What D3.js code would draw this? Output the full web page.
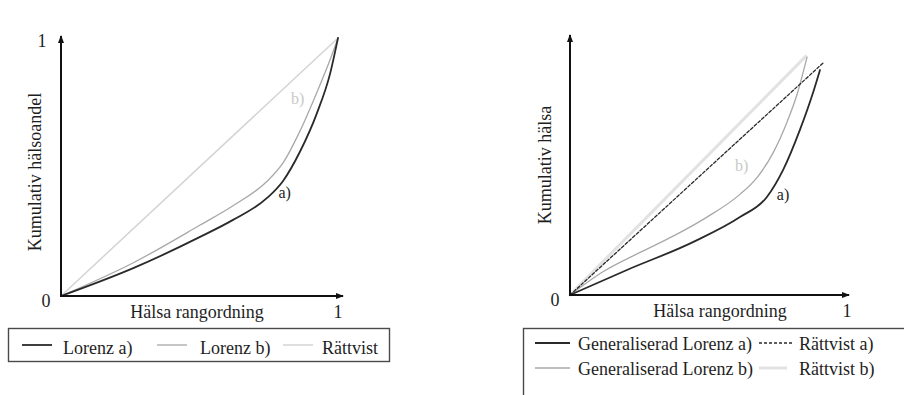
<!DOCTYPE html>
<html>
<head>
<meta charset="utf-8">
<script src="https://cdn.jsdelivr.net/npm/d3@7"></script>
<style>
  body { margin: 0; background: #fff; }
  text { font-family: "Liberation Serif", "Times New Roman", serif; fill: #1e1e1e; }
</style>
</head>
<body>
<svg id="chart" width="904" height="395"></svg>
<script>
// Left panel: Lorenz curves (population share ranked by health, cumulative health share)
const leftLorenzA = [[0,0],[0.263,0.109],[0.502,0.229],[0.621,0.295],[0.744,0.38],[0.801,0.445],[0.863,0.56],[0.924,0.709],[0.971,0.86],[1,1]];
const leftLorenzB = [[0,0],[0.263,0.13],[0.502,0.275],[0.621,0.35],[0.744,0.445],[0.801,0.515],[0.863,0.64],[0.924,0.79],[0.971,0.915],[1,1]];
const leftFair    = [[0,0],[1,1]];

// Right panel: generalised Lorenz curves and their equality lines
const rightLorenzA = [[0,0],[0.207,0.097],[0.447,0.205],[0.618,0.302],[0.716,0.38],[0.775,0.485],[0.836,0.64],[0.884,0.785],[0.909,0.872]];
const rightLorenzB = [[0,0],[0.12,0.09],[0.255,0.165],[0.375,0.228],[0.498,0.302],[0.618,0.39],[0.68,0.455],[0.738,0.55],[0.789,0.67],[0.825,0.775],[0.862,0.922]];
const rightFairA   = [[0,0],[0.92,0.899]];
const rightFairB   = [[0,0],[0.857,0.925]];

// Axis texts
const leftTicks  = ["0", "1"];
const rightTicks = ["0", "1"];
const leftYTitle  = "Kumulativ hälsoandel";
const rightYTitle = "Kumulativ hälsa";
const xTitle      = "Hälsa rangordning";

// Legend entries
const leftLegend  = ["Lorenz a)", "Lorenz b)", "Rättvist"];
const rightLegend = ["Generaliserad Lorenz a)", "Rättvist a)", "Generaliserad Lorenz b)", "Rättvist b)"];

const svg = d3.select("#chart");
const FS = 18;

// line styles
const styles = {
  lorenzA: { stroke: "#2a2a2a", width: 1.8, dash: null },
  lorenzB: { stroke: "#a8a8a8", width: 1.3, dash: null },
  fair:    { stroke: "#d4d4d4", width: 1.5, dash: null },
  fairA:   { stroke: "#2a2a2a", width: 1.3, dash: "3,2" },
  fairB:   { stroke: "#e2e2e2", width: 3,   dash: null }
};

svg.append("defs").append("marker")
  .attr("id", "arrow").attr("viewBox", "0 0 8 6")
  .attr("refX", 7).attr("refY", 3)
  .attr("markerWidth", 8).attr("markerHeight", 6)
  .attr("markerUnits", "userSpaceOnUse")
  .attr("orient", "auto")
  .append("path").attr("d", "M0,0 L8,3 L0,6 Z").attr("fill", "#111");

function drawPanel(cfg) {
  const x = d3.scaleLinear().domain([0, 1]).range(cfg.xr);
  const y = d3.scaleLinear().domain([0, 1]).range(cfg.yr);
  const g = svg.append("g");
  const line = d3.line().x(d => x(d[0])).y(d => y(d[1])).curve(d3.curveMonotoneX);

  cfg.series.forEach(s => {
    const st = styles[s.style];
    g.append("path").datum(s.data)
      .attr("d", line)
      .attr("fill", "none")
      .attr("stroke", st.stroke)
      .attr("stroke-width", st.width)
      .attr("stroke-dasharray", st.dash)
      .attr("stroke-linecap", "round");
  });

  // axes with arrow heads
  g.append("line")
    .attr("x1", x(0)).attr("y1", y(0)).attr("x2", x(1) + cfg.xOver).attr("y2", y(0))
    .attr("stroke", "#111").attr("stroke-width", 2).attr("marker-end", "url(#arrow)");
  g.append("line")
    .attr("x1", x(0)).attr("y1", y(0) + 1).attr("x2", x(0)).attr("y2", y(1) - 2)
    .attr("stroke", "#111").attr("stroke-width", 2).attr("marker-end", "url(#arrow)");

  // tick labels
  g.append("text").attr("x", x(0) - 15).attr("y", y(0) + 11)
    .attr("text-anchor", "middle").attr("font-size", FS).text(cfg.ticks[0]);
  g.append("text").attr("x", x(1) + cfg.oneDx).attr("y", y(0) + 22)
    .attr("text-anchor", "middle").attr("font-size", FS).text(cfg.ticks[1]);
  if (cfg.topOne) {
    g.append("text").attr("x", x(0) - 19).attr("y", y(1) + 9)
      .attr("text-anchor", "middle").attr("font-size", FS).text(cfg.ticks[1]);
  }

  // titles
  g.append("text").attr("x", cfg.xTitleX).attr("y", y(0) + 22)
    .attr("text-anchor", "middle").attr("font-size", FS).text(xTitle);
  g.append("text")
    .attr("transform", `translate(${cfg.yTitle[0]},${cfg.yTitle[1]}) rotate(-90)`)
    .attr("text-anchor", "middle").attr("font-size", FS).text(cfg.yText);

  // curve labels
  cfg.labels.forEach(l => {
    g.append("text")
      .attr("transform", `translate(${x(l.at[0])},${y(l.at[1])}) rotate(${l.rot})`)
      .attr("font-size", 16).style("fill", l.color).text(l.text);
  });
}

drawPanel({
  xr: [61, 338], yr: [296, 38], xOver: 5, oneDx: 0, topOne: true,
  ticks: leftTicks, xTitleX: 197, yTitle: [41, 172], yText: leftYTitle,
  series: [
    { data: leftFair, style: "fair" },
    { data: leftLorenzB, style: "lorenzB" },
    { data: leftLorenzA, style: "lorenzA" }
  ],
  labels: [
    { text: "a)", at: [0.785, 0.38], color: "#1e1e1e", rot: 0 },
    { text: "b)", at: [0.83, 0.745], color: "#c8c8c8", rot: 0 }
  ]
});

drawPanel({
  xr: [570, 845], yr: [295, 37], xOver: 4, oneDx: 2, topOne: false,
  ticks: rightTicks, xTitleX: 720, yTitle: [551, 165], yText: rightYTitle,
  series: [
    { data: rightFairB, style: "fairB" },
    { data: rightLorenzB, style: "lorenzB" },
    { data: rightFairA, style: "fairA" },
    { data: rightLorenzA, style: "lorenzA" }
  ],
  labels: [
    { text: "a)", at: [0.752, 0.37], color: "#1e1e1e", rot: 0 },
    { text: "b)", at: [0.6, 0.48], color: "#c8c8c8", rot: 0 }
  ]
});

// legend boxes
const leftStyles = ["lorenzA", "lorenzB", "fair"];
const lg = svg.append("g");
lg.append("rect").attr("x", 8.5).attr("y", 328.5).attr("width", 381).attr("height", 33)
  .attr("fill", "none").attr("stroke", "#4a4a4a").attr("stroke-width", 1.4);
const leftLineX = [22, 157, 283];
const leftTextX = [63, 200, 322];
leftLegend.forEach((t, i) => {
  const st = styles[leftStyles[i]];
  lg.append("line").attr("x1", leftLineX[i]).attr("x2", leftLineX[i] + 30)
    .attr("y1", 345).attr("y2", 345)
    .attr("stroke", st.stroke).attr("stroke-width", st.width);
  lg.append("text").attr("x", leftTextX[i]).attr("y", 354)
    .attr("font-size", FS).text(t);
});

const rightStyles = ["lorenzA", "fairA", "lorenzB", "fairB"];
const rg = svg.append("g");
rg.append("rect").attr("x", 523.5).attr("y", 328.5).attr("width", 420).attr("height", 100)
  .attr("fill", "none").attr("stroke", "#4a4a4a").attr("stroke-width", 1.4);
const rLineX = [[535, 570], [759, 793], [535, 570], [759, 787]];
const rTextX = [578, 799, 578, 799];
const rRowY = [343, 368];
rightLegend.forEach((t, i) => {
  const st = styles[rightStyles[i]];
  const ry = rRowY[Math.floor(i / 2)];
  rg.append("line").attr("x1", rLineX[i][0]).attr("x2", rLineX[i][1])
    .attr("y1", ry).attr("y2", ry)
    .attr("stroke", st.stroke).attr("stroke-width", st.width)
    .attr("stroke-dasharray", st.dash);
  rg.append("text").attr("x", rTextX[i]).attr("y", ry + 7)
    .attr("font-size", FS).text(t);
});
</script>
</body>
</html>
